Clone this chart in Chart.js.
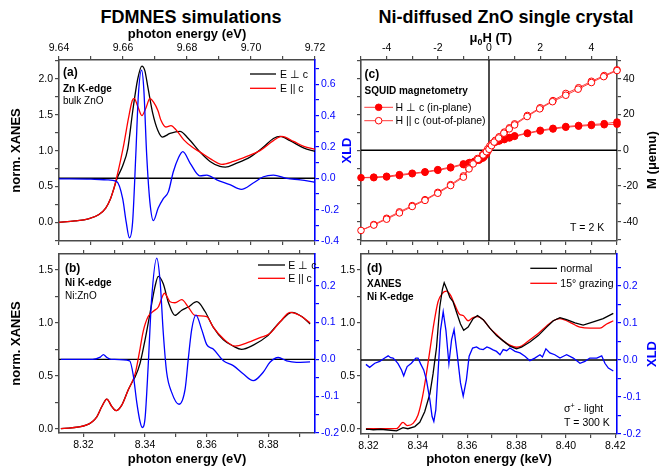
<!DOCTYPE html>
<html><head><meta charset="utf-8">
<script src="https://cdn.jsdelivr.net/npm/chart.js@4/dist/chart.umd.min.js"></script>
<style>
html,body{margin:0;padding:0;background:#fff;}
#wrap{position:relative;width:668px;height:468px;overflow:hidden;background:#fff;}
canvas{position:absolute;left:0;top:0;}
.h{position:absolute;font:bold 18px "Liberation Sans",Arial,sans-serif;line-height:20px;white-space:nowrap;transform:translateX(-50%);color:#000;}
</style></head><body>
<div id="wrap">
<div class="h" style="left:191px;top:7px">FDMNES simulations</div>
<div class="h" style="left:506px;top:7px">Ni-diffused ZnO single crystal</div>
<canvas id="ca" width="668" height="468"></canvas>
<canvas id="cb" width="668" height="468"></canvas>
<canvas id="cc" width="668" height="468"></canvas>
<canvas id="cd" width="668" height="468"></canvas>
</div>
<script>
// ---------------- DATA ----------------
// Panel (a): Zn K-edge, bulk ZnO (FDMNES)
const aXTicks = [9.64, 9.66, 9.68, 9.70, 9.72];
const aYTicks = [0.0, 0.5, 1.0, 1.5, 2.0];
const aXldTicks = [-0.4, -0.2, 0.0, 0.2, 0.4, 0.6];
const aPerpE = [9.640,9.645,9.6492,9.6525,9.6546,9.6561,9.6572,9.6582,9.6599,9.6615,9.663,9.6646,9.6659,9.6668,9.6678,9.6693,9.6709,9.6723,9.6747,9.6778,9.6804,9.6841,9.6872,9.6903,9.692,9.6952,9.6997,9.7039,9.707,9.7091,9.7122,9.7164,9.72];
const aPerpV = [0.00,0.02,0.05,0.11,0.20,0.33,0.48,0.62,0.79,1.03,1.54,2.00,2.18,2.12,1.88,1.52,1.28,1.19,1.24,1.27,1.17,0.98,0.85,0.78,0.77,0.82,0.91,1.05,1.17,1.20,1.14,1.04,0.99];
const aParE = [9.640,9.645,9.6492,9.6525,9.6546,9.6561,9.6572,9.6582,9.6593,9.6603,9.6617,9.6629,9.6635,9.6646,9.6659,9.6672,9.6684,9.6695,9.6709,9.6719,9.6734,9.675,9.6766,9.679,9.6816,9.6841,9.6872,9.6909,9.6945,9.6987,9.7028,9.707,9.7096,9.7133,9.7165,9.72];
const aParV = [0.00,0.02,0.05,0.11,0.20,0.33,0.48,0.66,0.88,1.10,1.45,1.70,1.73,1.62,1.49,1.60,1.73,1.68,1.56,1.42,1.33,1.35,1.29,1.15,1.05,0.98,0.89,0.81,0.85,0.92,1.00,1.14,1.20,1.13,1.06,1.02];
const aXldE = [9.640,9.650,9.655,9.658,9.6599,9.661,9.662,9.663,9.664,9.6648,9.6658,9.6665,9.6674,9.6684,9.6695,9.671,9.6726,9.6742,9.6757,9.6773,9.6787,9.681,9.684,9.6862,9.6893,9.6934,9.697,9.7007,9.7039,9.707,9.7112,9.7154,9.72];
const aXldV = [-0.003,-0.005,-0.01,-0.02,-0.13,-0.28,-0.38,-0.28,0.15,0.53,0.69,0.57,0.15,-0.15,-0.27,-0.19,-0.13,-0.085,0.04,0.13,0.17,0.096,0.016,0.02,-0.01,-0.04,-0.07,-0.03,0.01,0.02,0.0,-0.01,-0.025];

// Panel (b): Ni K-edge, Ni:ZnO (FDMNES)
const bXTicks = [8.32, 8.34, 8.36, 8.38];
const bYTicks = [0.0, 0.5, 1.0, 1.5];
const bXldTicks = [-0.2, -0.1, 0.0, 0.1, 0.2];
const bPerpE = [8.3127,8.3211,8.3243,8.326,8.3276,8.3292,8.3306,8.3324,8.3346,8.3362,8.3368,8.3384,8.34,8.3416,8.3432,8.3443,8.3459,8.3476,8.3497,8.3519,8.354,8.3568,8.3594,8.3621,8.3654,8.3686,8.3713,8.3751,8.3794,8.3838,8.3876,8.3908,8.3935];
const bPerpV = [0.00,0.035,0.11,0.21,0.28,0.21,0.17,0.22,0.37,0.46,0.49,0.62,0.84,1.09,1.34,1.44,1.37,1.19,1.07,1.12,1.15,1.20,1.11,0.96,0.84,0.78,0.75,0.79,0.87,1.01,1.10,1.06,0.99];
const bParE = [8.3127,8.3211,8.3243,8.326,8.3276,8.3292,8.3306,8.3324,8.3346,8.3368,8.3384,8.3394,8.341,8.3427,8.3443,8.3463,8.3481,8.3497,8.3519,8.354,8.3562,8.36,8.3621,8.3654,8.3692,8.373,8.3773,8.3805,8.3838,8.387,8.3902,8.3935];
const bParV = [0.00,0.035,0.11,0.21,0.28,0.21,0.17,0.22,0.37,0.52,0.76,0.92,1.06,1.11,1.15,1.28,1.20,1.19,1.22,1.15,1.07,1.06,0.96,0.85,0.78,0.81,0.86,0.90,1.01,1.10,1.07,1.00];
const bXldE = [8.3127,8.323,8.3255,8.3265,8.3275,8.329,8.335,8.3362,8.3373,8.3384,8.3391,8.34,8.341,8.3421,8.3438,8.3449,8.3459,8.347,8.3486,8.351,8.353,8.354,8.3551,8.3565,8.3584,8.36,8.3621,8.3654,8.3686,8.3719,8.3751,8.3783,8.3805,8.3832,8.3859,8.3891,8.3935];
const bXldV = [0,0,0.006,0.013,0.006,0,-0.004,-0.044,-0.116,-0.17,-0.185,-0.16,-0.02,0.16,0.275,0.21,0.073,-0.035,-0.089,-0.122,-0.08,0.0,0.08,0.12,0.08,0.04,0.028,-0.004,-0.017,-0.04,-0.058,-0.035,-0.008,0.005,-0.004,-0.008,-0.007];

// Panel (c): SQUID magnetometry, T = 2 K
const cHTicks = [-4, -2, 0, 2, 4];
const cMTicks = [-40, -20, 0, 20, 40];
const cPerpDownH = [5,4.5,4,3.5,3,2.5,2,1.5,1,0.8,0.6,0.4,0.27,0.15,0.05,-0.03,-0.1,-0.2,-0.35,-0.55,-0.75,-1,-1.5,-2,-2.5,-3,-3.5,-4,-4.5,-5];
const cPerpDownM = [15.8,14.9,14.4,13.9,13.3,12.3,11.2,9.7,8.1,7.2,6.3,5.4,4.8,4.0,2.2,0.0,-2.2,-3.8,-5.0,-6.0,-6.8,-7.6,-9.4,-10.8,-12.0,-12.8,-13.6,-14.5,-15.0,-15.3];
const cPerpUpH = [-4.5,-4,-3.5,-3,-2.5,-2,-1.5,-1,-0.8,-0.6,-0.4,-0.25,-0.15,-0.07,0.03,0.12,0.25,0.4,0.6,0.8,1,1.5,2,2.5,3,3.5,4,4.5,5];
const cPerpUpM = [-15.3,-14.9,-14.1,-13.1,-12.3,-11.2,-9.8,-8.0,-7.1,-6.5,-5.6,-4.4,-2.8,-1.0,1.5,3.5,4.6,5.2,6.0,6.9,7.8,9.4,10.8,11.9,12.9,13.5,13.9,14.3,14.6];
const cParDownH = [5,4.5,4,3.5,3,2.5,2,1.5,1,0.8,0.6,0.4,0.25,0.12,0.03,-0.05,-0.15,-0.25,-0.45,-0.65,-0.8,-1,-1.5,-2,-2.5,-3,-3.5,-4,-4.5,-5];
const cParDownM = [45.0,41.8,38.6,35.0,31.8,27.8,23.8,19.5,14.8,12.6,10.2,7.6,5.6,3.8,2.4,0.8,-1.0,-2.4,-4.6,-7.4,-10.0,-14.3,-19.2,-23.5,-27.6,-30.9,-34.4,-38.0,-41.5,-44.8];
const cParUpH = [-4.5,-4,-3.5,-3,-2.5,-2,-1.5,-1,-0.78,-0.62,-0.43,-0.23,-0.1,0.0,0.1,0.2,0.38,0.58,0.79,1.0,1.49,1.98,2.48,3.0,3.48,4.0,4.48,5];
const cParUpM = [-41.8,-38.5,-35.0,-31.4,-28.0,-24.0,-19.7,-15.0,-10.4,-7.6,-5.0,-2.6,-0.8,0.6,2.6,4.6,6.9,9.6,12.0,14.2,18.9,23.2,27.2,30.8,34.2,37.9,41.2,44.6];

// Panel (d): measured XANES, Ni K-edge, T = 300 K
const dXTicks = [8.32, 8.34, 8.36, 8.38, 8.40, 8.42];
const dYTicks = [0.0, 0.5, 1.0, 1.5];
const dXldTicks = [-0.2, -0.1, 0.0, 0.1, 0.2];
const dNormE = [8.319,8.3205,8.322,8.325,8.328,8.3314,8.334,8.336,8.3388,8.3408,8.3428,8.3449,8.3462,8.3476,8.3489,8.35,8.3507,8.3519,8.353,8.3543,8.3557,8.3573,8.3586,8.3604,8.3624,8.3642,8.3665,8.3692,8.3719,8.3746,8.3773,8.38,8.382,8.3854,8.3888,8.3922,8.3949,8.3976,8.4003,8.4037,8.407,8.4111,8.4151,8.4192];
const dNormV = [-0.005,-0.006,-0.01,-0.005,-0.012,-0.02,0.01,0.0,0.02,0.06,0.16,0.33,0.52,0.77,1.15,1.32,1.38,1.31,1.24,1.20,1.10,0.99,0.93,0.96,1.04,1.07,1.03,0.95,0.88,0.83,0.78,0.755,0.77,0.82,0.88,0.96,1.02,1.05,1.03,1.0,0.98,1.01,1.04,1.09];
const dGrazE = [8.319,8.322,8.3314,8.334,8.3357,8.3381,8.3401,8.3419,8.3435,8.3449,8.3465,8.3482,8.35,8.3516,8.3533,8.355,8.357,8.3584,8.3604,8.3624,8.3642,8.3665,8.3692,8.3719,8.3746,8.3773,8.38,8.382,8.3854,8.3888,8.3922,8.3949,8.3976,8.4003,8.4037,8.4057,8.4098,8.4138,8.4165,8.4192];
const dGrazV = [0.0,0.0,0.0,0.06,0.03,0.05,0.13,0.30,0.52,0.74,0.99,1.20,1.28,1.30,1.26,1.17,1.08,1.07,1.02,1.05,1.06,1.03,0.95,0.89,0.83,0.79,0.77,0.78,0.84,0.90,0.97,1.02,1.04,1.02,0.98,0.96,0.95,0.95,0.99,1.02];
const dXldE = [8.319,8.3205,8.3226,8.3246,8.3266,8.328,8.329,8.33,8.331,8.332,8.3334,8.3343,8.335,8.3357,8.3374,8.3392,8.3401,8.3411,8.3424,8.3435,8.3449,8.3458,8.3465,8.3473,8.3482,8.3492,8.3503,8.3514,8.3526,8.3537,8.3547,8.3559,8.3573,8.3584,8.3597,8.3608,8.3622,8.3638,8.365,8.3665,8.368,8.3692,8.3705,8.3719,8.3733,8.3746,8.376,8.3773,8.3794,8.3814,8.3834,8.3854,8.3874,8.3895,8.3905,8.3919,8.3935,8.3955,8.3976,8.399,8.4003,8.403,8.4057,8.4077,8.4097,8.4125,8.4145,8.4158,8.4172,8.4192];
const dXldV = [-0.012,-0.02,-0.009,-0.004,0.005,0.011,0.006,0.005,-0.002,-0.01,-0.027,-0.043,-0.03,-0.018,-0.009,0.005,0.005,-0.01,-0.027,-0.054,-0.108,-0.153,-0.166,-0.135,-0.036,0.08,0.13,0.08,-0.01,0.055,0.082,0.019,-0.062,-0.098,-0.053,0.01,0.032,0.035,0.03,0.028,0.035,0.032,0.027,0.023,0.014,0.028,0.025,0.032,0.023,0.019,0.01,-0.002,0.005,0.014,0.008,0.03,0.019,0.014,0.005,0.01,0.014,0.005,-0.009,-0.004,0.005,0.005,0.011,-0.009,-0.022,-0.03];

// ---------------- RENDERING ----------------
const FONT = '"Liberation Sans", Arial, Helvetica, sans-serif';
Chart.defaults.font.family = FONT;
Chart.defaults.color = '#000';
const W = 668, H = 468;
const GRAY = '#4a4a4a', BLUE = '#0000ff', RED = '#ff0000', BLACK = '#000000';

const range = (a, b, s) => { const o = []; const n = Math.round((b - a) / s); for (let i = 0; i <= n; i++) o.push(+(a + i * s).toFixed(6)); return o; };
const pts = (xs, ys) => xs.map((x, i) => ({x: x, y: ys[i]}));
const isMajor = (v, list) => list.some(m => Math.abs(m - v) < 1e-7);

function axis(o) {
  const col = o.color || GRAY;
  return {
    type: 'linear', position: o.pos, min: o.min, max: o.max,
    afterBuildTicks: s => { s.ticks = o.all.map(v => ({value: v})); },
    afterFit: s => { if (s.isHorizontal()) s.height = o.size; else s.width = o.size; },
    ticks: {
      display: !!o.labels, autoSkip: false, maxRotation: 0, minRotation: 0,
      color: o.labelColor || (o.color ? o.color : '#000'), padding: 2, font: {size: 10.5},
      callback: v => isMajor(v, o.major || []) ? (+v).toFixed(o.dec || 0) : ''
    },
    grid: { display: true, drawOnChartArea: false, drawTicks: true, tickLength: 4, color: col, tickColor: col, lineWidth: 1.2 },
    border: { display: true, color: col, width: 1.6 },
    title: o.title ? Object.assign({display: true, color: '#000', font: {size: 13, weight: 'bold'}}, o.title) : {display: false}
  };
}

function drawRich(ctx, it) {
  const parts = it.parts || [{t: it.t}];
  const size = it.size || 10.5, wt = it.bold ? 'bold ' : '';
  const f = s => wt + s + 'px ' + FONT;
  let total = 0;
  parts.forEach(p => { ctx.font = f((p.sub || p.sup) ? size * 0.68 : size); p.w = ctx.measureText(p.t).width; total += p.w; });
  ctx.save();
  ctx.translate(it.x, it.y);
  if (it.rot) ctx.rotate(it.rot);
  let x = it.align === 'center' ? -total / 2 : (it.align === 'right' ? -total : 0);
  ctx.fillStyle = it.color || '#000';
  ctx.textBaseline = 'alphabetic';
  const base = size * 0.36;
  parts.forEach(p => {
    ctx.font = f((p.sub || p.sup) ? size * 0.68 : size);
    const dy = p.sub ? size * 0.28 : (p.sup ? -size * 0.42 : 0);
    ctx.fillText(p.t, x, base + dy);
    x += p.w;
  });
  ctx.restore();
}

const extras = {
  id: 'extras',
  beforeDatasetsDraw(chart, args, o) {
    const ctx = chart.ctx, a = chart.chartArea;
    (o.zero || []).forEach(id => {
      const s = chart.scales[id], p = s.getPixelForValue(0);
      ctx.save(); ctx.strokeStyle = '#000'; ctx.lineWidth = 1.4; ctx.beginPath();
      if (s.isHorizontal()) { ctx.moveTo(p, a.top); ctx.lineTo(p, a.bottom); }
      else { ctx.moveTo(a.left, p); ctx.lineTo(a.right, p); }
      ctx.stroke(); ctx.restore();
    });
  },
  afterDraw(chart, args, o) {
    const ctx = chart.ctx;
    (o.texts || []).forEach(t => drawRich(ctx, t));
    (o.legend || []).forEach(l => {
      const ds = chart.data.datasets[l.ds];
      ctx.save();
      ctx.strokeStyle = ds.borderColor; ctx.lineWidth = ds.borderWidth || 1.3;
      ctx.beginPath(); ctx.moveTo(l.x1, l.y); ctx.lineTo(l.x2, l.y); ctx.stroke();
      if (ds.pointRadius) {
        ctx.beginPath(); ctx.arc((l.x1 + l.x2) / 2, l.y, ds.pointRadius, 0, Math.PI * 2);
        ctx.fillStyle = ds.pointBackgroundColor; ctx.fill();
        ctx.lineWidth = ds.pointBorderWidth; ctx.strokeStyle = ds.pointBorderColor; ctx.stroke();
      }
      ctx.restore();
      drawRich(ctx, {t: ds.label, x: l.tx, y: l.y, size: 10.5});
    });
  }
};

function curve(label, xs, ys, color, yAxis, order, smooth) {
  return {
    label: label, data: pts(xs, ys), borderColor: color, backgroundColor: color,
    borderWidth: 1.3, pointRadius: 0, showLine: true,
    cubicInterpolationMode: smooth ? 'monotone' : 'default', tension: 0,
    xAxisID: 'x', yAxisID: yAxis, order: order
  };
}

function make(id, datasets, scales, ex) {
  new Chart(document.getElementById(id), {
    type: 'scatter',
    data: {datasets: datasets},
    options: {
      responsive: false, maintainAspectRatio: false, animation: false, events: [],
      devicePixelRatio: 1,
      layout: {padding: 0},
      plugins: {legend: {display: false}, tooltip: {enabled: false}, title: {display: false}, extras: ex},
      scales: scales
    },
    plugins: [extras]
  });
}

const HP = Math.PI / 2;

// ---- Panel (a) : chart area 59..315 x 60..241
make('ca', [
  curve('E ⊥ c', aPerpE, aPerpV, BLACK, 'y', 3, true),
  curve('E || c', aParE, aParV, RED, 'y', 2, true),
  curve('XLD', aXldE, aXldV, BLUE, 'y2', 1, true)
], {
  x: axis({pos: 'top', min: 9.64, max: 9.72, all: range(9.64, 9.72, 0.01), major: aXTicks, dec: 2, labels: true, size: 60,
           title: {text: 'photon energy (eV)', padding: {top: 27, bottom: 0}}}),
  x2: axis({pos: 'bottom', min: 9.64, max: 9.72, all: range(9.64, 9.72, 0.01), labels: false, size: H - 241}),
  y: axis({pos: 'left', min: -0.26, max: 2.265, all: range(-0.25, 2.25, 0.25), major: aYTicks, dec: 1, labels: true, size: 59,
           title: {text: 'norm. XANES', padding: {top: 9, bottom: 0}}}),
  y2: axis({pos: 'right', min: -0.4, max: 0.755, all: range(-0.4, 0.7, 0.1), major: aXldTicks, dec: 1, labels: true, size: W - 315, color: BLUE})
}, {
  zero: ['y2'],
  texts: [
    {t: '(a)', x: 63, y: 72, bold: true, size: 12},
    {t: 'Zn K-edge', x: 63, y: 88.3, bold: true, size: 10},
    {t: 'bulk ZnO', x: 63, y: 100.7, size: 10},
    {t: 'XLD', x: 346.5, y: 150.5, rot: -HP, align: 'center', bold: true, size: 13, color: BLUE}
  ],
  legend: [{ds: 0, x1: 250, x2: 276, y: 74, tx: 280}, {ds: 1, x1: 250, x2: 276, y: 88.3, tx: 280}]
});

// ---- Panel (b) : chart area 59..315 x 254..433
make('cb', [
  curve('E ⊥ c', bPerpE, bPerpV, BLACK, 'y', 3, true),
  curve('E || c', bParE, bParV, RED, 'y', 2, true),
  curve('XLD', bXldE, bXldV, BLUE, 'y2', 1, true)
], {
  x: axis({pos: 'bottom', min: 8.3121, max: 8.3951, all: range(8.32, 8.39, 0.01), major: bXTicks, dec: 2, labels: true, size: H - 433,
           title: {text: 'photon energy (eV)', padding: {top: 0, bottom: 1.2}}}),
  x2: axis({pos: 'top', min: 8.3121, max: 8.3951, all: range(8.32, 8.39, 0.01), labels: false, size: 254}),
  y: axis({pos: 'left', min: -0.041, max: 1.651, all: range(0, 1.5, 0.25), major: bYTicks, dec: 1, labels: true, size: 59,
           title: {text: 'norm. XANES', padding: {top: 9, bottom: 0}}}),
  y2: axis({pos: 'right', min: -0.2, max: 0.286, all: range(-0.2, 0.25, 0.05), major: bXldTicks, dec: 1, labels: true, size: W - 315, color: BLUE})
}, {
  zero: ['y2'],
  texts: [
    {t: '(b)', x: 65, y: 267.3, bold: true, size: 12},
    {t: 'Ni K-edge', x: 65, y: 282.3, bold: true, size: 10},
    {t: 'Ni:ZnO', x: 65, y: 295, size: 10}
  ],
  legend: [{ds: 0, x1: 258, x2: 285, y: 265, tx: 288.3}, {ds: 1, x1: 258, x2: 285, y: 278.3, tx: 288.3}]
});

// ---- Panel (c) : chart area 361..617 x 60..241
const loop = (h1, m1, h2, m2) => pts(h1.concat(h2), m1.concat(m2));
make('cc', [
  {label: 'H ⊥ c (in-plane)', data: loop(cPerpDownH, cPerpDownM, cPerpUpH, cPerpUpM), showLine: true, tension: 0,
   borderColor: '#ff3b3b', borderWidth: 1, pointRadius: 3.3, pointBackgroundColor: RED, pointBorderColor: RED, pointBorderWidth: 1,
   xAxisID: 'x', yAxisID: 'y2', clip: false, order: 2},
  {label: 'H || c (out-of-plane)', data: loop(cParDownH, cParDownM, cParUpH, cParUpM), showLine: true, tension: 0,
   borderColor: '#ff3b3b', borderWidth: 1, pointRadius: 3.3, pointBackgroundColor: '#ffffff', pointBorderColor: RED, pointBorderWidth: 1,
   xAxisID: 'x', yAxisID: 'y2', clip: false, order: 1}
], {
  x: axis({pos: 'top', min: -5, max: 5, all: range(-5, 5, 1), major: cHTicks, dec: 0, labels: true, size: 60}),
  x2: axis({pos: 'bottom', min: -5, max: 5, all: range(-5, 5, 1), labels: false, size: H - 241}),
  y: axis({pos: 'left', min: -50.7, max: 50.5, all: range(-50, 50, 10), labels: false, size: 361}),
  y2: axis({pos: 'right', min: -50.7, max: 50.5, all: range(-50, 50, 10), major: cMTicks, dec: 0, labels: true, size: W - 617})
}, {
  zero: ['x', 'y2'],
  texts: [
    {t: '(c)', x: 364.5, y: 73.3, bold: true, size: 12},
    {t: 'SQUID magnetometry', x: 364.5, y: 90.7, bold: true, size: 10},
    {t: 'T = 2 K', x: 570, y: 227.7, size: 10.5},
    {parts: [{t: 'μ'}, {t: '0', sub: true}, {t: 'H (T)'}], x: 490.8, y: 37, align: 'center', bold: true, size: 13},
    {parts: [{t: 'M (μemu)'}], x: 651.7, y: 160, rot: -HP, align: 'center', bold: true, size: 13}
  ],
  legend: [{ds: 0, x1: 364.3, x2: 393, y: 107.3, tx: 395.5}, {ds: 1, x1: 364.3, x2: 393, y: 120.7, tx: 395.5}]
});

// ---- Panel (d) : chart area 361..617 x 254..434
make('cd', [
  curve('normal', dNormE, dNormV, BLACK, 'y', 2, false),
  curve('15° grazing', dGrazE, dGrazV, RED, 'y', 3, true),
  curve('XLD', dXldE, dXldV, BLUE, 'y2', 1, false)
], {
  x: axis({pos: 'bottom', min: 8.317, max: 8.4207, all: range(8.32, 8.42, 0.01), major: dXTicks, dec: 2, labels: true, size: H - 434,
           title: {text: 'photon energy (keV)', padding: {top: 0, bottom: 1.2}}}),
  x2: axis({pos: 'top', min: 8.317, max: 8.4207, all: range(8.32, 8.42, 0.01), labels: false, size: 254}),
  y: axis({pos: 'left', min: -0.05, max: 1.651, all: range(0, 1.5, 0.25), major: dYTicks, dec: 1, labels: true, size: 361}),
  y2: axis({pos: 'right', min: -0.2, max: 0.286, all: range(-0.2, 0.25, 0.05), major: dXldTicks, dec: 1, labels: true, size: W - 617, color: BLUE})
}, {
  zero: ['y2'],
  texts: [
    {t: '(d)', x: 367, y: 267.3, bold: true, size: 12},
    {t: 'XANES', x: 367, y: 283.3, bold: true, size: 10},
    {t: 'Ni K-edge', x: 367, y: 296, bold: true, size: 10},
    {parts: [{t: 'σ'}, {t: '+', sup: true}, {t: ' - light'}], x: 564, y: 408.3, size: 10.5},
    {t: 'T = 300 K', x: 564, y: 422.3, size: 10.5},
    {t: 'XLD', x: 651.7, y: 354, rot: -HP, align: 'center', bold: true, size: 13, color: BLUE}
  ],
  legend: [{ds: 0, x1: 530.3, x2: 557, y: 268.3, tx: 560.3}, {ds: 1, x1: 530.3, x2: 557, y: 283.3, tx: 560.3}]
});
</script>
</body></html>
